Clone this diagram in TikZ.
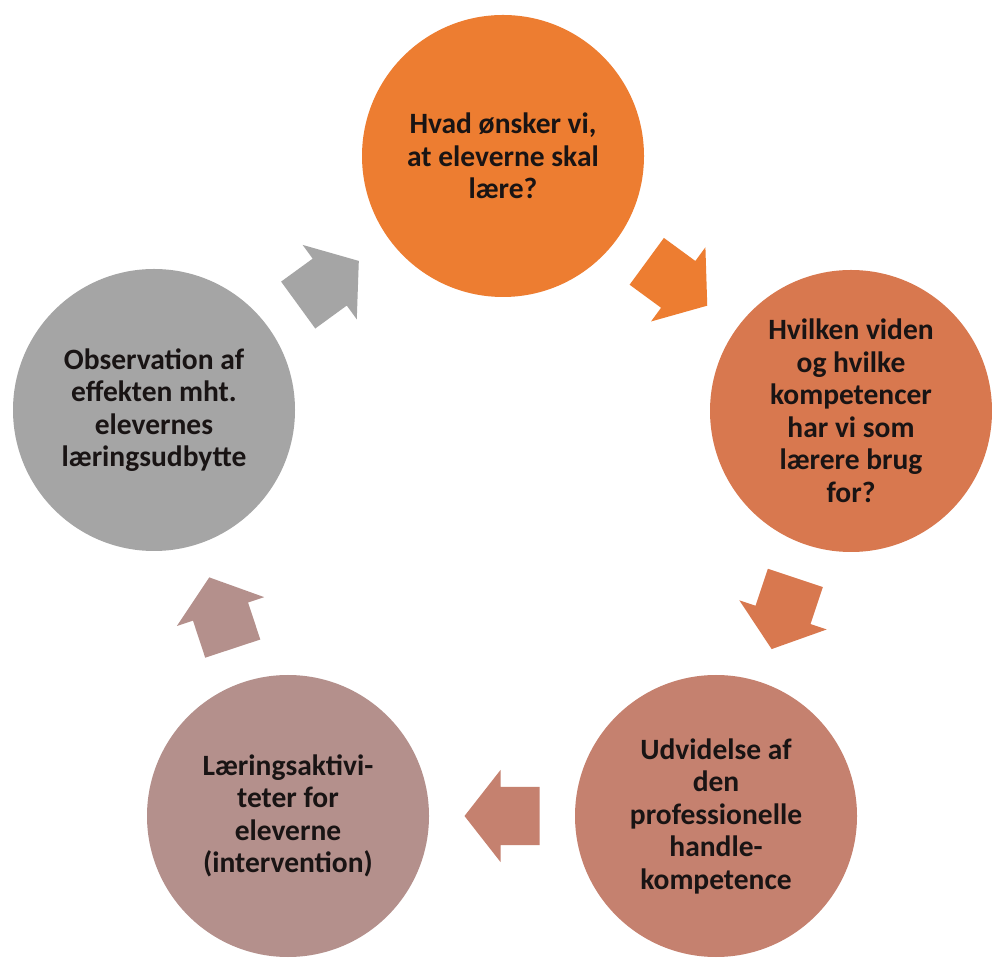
\documentclass[tikz,border=0pt]{standalone}
\usepackage{fontspec}
\setmainfont{Carlito}
\definecolor{cA}{RGB}{237,125,49}
\definecolor{cB}{RGB}{216,120,79}
\definecolor{cC}{RGB}{197,129,111}
\definecolor{cD}{RGB}{180,144,140}
\definecolor{cE}{RGB}{165,165,165}
\definecolor{txt}{RGB}{25,20,20}
\tikzset{
  stage/.style={circle, minimum size=282pt, inner sep=0pt, fill=#1, draw=none,
    align=center, text=txt, font=\bfseries\fontsize{29.5}{32.5}\selectfont},
  pics/blockarrow/.style={code={
    \fill[#1] (-37.5,-29) -- (1.5,-29) -- (1.5,-46) -- (37.5,0) -- (1.5,46)
      -- (1.5,29) -- (-37.5,29) -- cycle;}}
}
\begin{document}
\begin{tikzpicture}[x=1pt,y=1pt]
\useasboundingbox (0,0) rectangle (992,958);
\fill[white] (0,0) rectangle (992,958);
\node[stage=cA] (top) at (503,802) {Hvad ønsker vi,\\at eleverne skal\\lære?};
\node[stage=cB] (right) at (851,547) {Hvilken viden\\og hvilke\\kompetencer\\har vi som\\lærere brug\\for?};
\node[stage=cC] (bright) at (716,142) {Udvidelse af\\den\\professionelle\\handle-\\kompetence};
\node[stage=cD] (bleft) at (288,142) {Læringsaktivi-\\teter for\\eleverne\\(intervention)};
\node[stage=cE] (left) at (154,548) {Observation af\\effekten mht.\\elevernes\\læringsudbytte};
\path (top) -- (right) pic[midway, sloped, allow upside down] {blockarrow=cA};
\path (right) -- (bright) pic[midway, sloped, allow upside down] {blockarrow=cB};
\path (bright) -- (bleft) pic[midway, sloped, allow upside down] {blockarrow=cC};
\path (bleft) -- (left) pic[midway, sloped, allow upside down] {blockarrow=cD};
\path (left) -- (top) pic[midway, sloped, allow upside down] {blockarrow=cE};
\end{tikzpicture}
\end{document}
